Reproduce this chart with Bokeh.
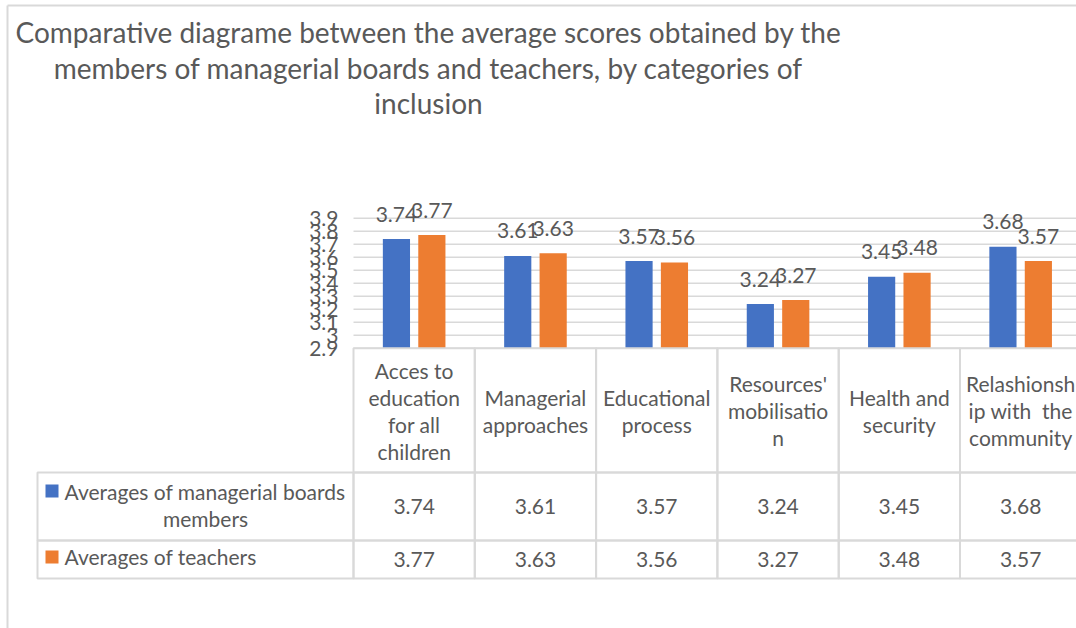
from bokeh.plotting import figure
from bokeh.models import ColumnDataSource, Range1d
from bokeh.transform import dodge
from bokeh.core.properties import value
from bokeh.embed import file_html
from bokeh.resources import INLINE

# ---------------- data ----------------
categories = ["Acces to education for all children", "Managerial approaches",
              "Educational process", "Resources' mobilisation",
              "Health and security", "Relashionship with  the community"]
header_labels = ["Acces to\neducation\nfor all\nchildren", "Managerial\napproaches",
                 "Educational\nprocess", "Resources'\nmobilisatio\nn",
                 "Health and\nsecurity", "Relashionsh\nip with\u00a0 the\ncommunity"]
managers = [3.74, 3.61, 3.57, 3.24, 3.45, 3.68]
teachers = [3.77, 3.63, 3.56, 3.27, 3.48, 3.57]
series_names = ["Averages of managerial boards members", "Averages of teachers"]
legend_lines = [["Averages of managerial boards", "members"], ["Averages of teachers"]]
y_ticks = [2.9, 3.0, 3.1, 3.2, 3.3, 3.4, 3.5, 3.6, 3.7, 3.8, 3.9]
y_tick_labels = ["2.9", "3", "3.1", "3.2", "3.3", "3.4", "3.5", "3.6", "3.7", "3.8", "3.9"]
title_lines = ["Comparative diagrame between the average scores obtained by the",
               "members of managerial boards and teachers, by categories of",
               "inclusion"]

# ---------------- style / layout ----------------
BLUE, ORANGE = "#4472C4", "#ED7D31"
TXT = "#595959"
LINE = "#d9d9d9"
FONT = value("Lato")
FS = "21px"

W, H = 1076, 628
FRAME_L = 353.0          # canvas x where the category axis starts
CAT_W = 121.3            # px per category
BASE_Y = 347.7           # canvas y of the axis minimum (2.9)
PX_PER_UNIT = 130.0      # px per 1.0 of score
Y_MIN = 2.9

x_range = Range1d(-FRAME_L / CAT_W, (W - FRAME_L) / CAT_W)
y_range = Range1d(Y_MIN - (H - BASE_Y) / PX_PER_UNIT, Y_MIN + BASE_Y / PX_PER_UNIT)

p = figure(width=W, height=H, x_range=x_range, y_range=y_range, title=None,
           x_axis_location=None, y_axis_location=None, min_border=0,
           output_backend="svg", toolbar_location=None, outline_line_color=None,
           background_fill_color="white", border_fill_color="white")
p.grid.visible = False
p.extra_x_ranges = {"px": Range1d(0, W)}
p.extra_y_ranges = {"px": Range1d(H, 0)}

n = len(categories)
src = ColumnDataSource(dict(
    xc=[i + 0.5 for i in range(n)],
    managers=managers, teachers=teachers,
    m_txt=[f"{v:.2f}" for v in managers],
    t_txt=[f"{v:.2f}" for v in teachers],
))

# ---------------- outer chart border ----------------
p.segment(x0=[7, 7], y0=[5, 5], x1=[7, W + 5], y1=[H + 5, 5], x_range_name="px",
          y_range_name="px", line_color=LINE, line_width=2)

# ---------------- title ----------------
p.text(x=[428] * 3, y=[31, 67, 102], text=title_lines, x_range_name="px", y_range_name="px",
       text_align="center", text_baseline="middle", text_font=FONT,
       text_font_size="28px", text_color=TXT)

# ---------------- value axis: gridlines + tick labels ----------------
p.segment(x0=[0] * len(y_ticks), x1=[n] * len(y_ticks), y0=y_ticks, y1=y_ticks,
          line_color=LINE, line_width=1.5)
p.text(x=[0] * len(y_ticks), y=y_ticks, text=y_tick_labels, x_offset=-15,
       text_align="right", text_baseline="middle", text_font=FONT,
       text_font_size=FS, text_color=TXT)

# ---------------- bars ----------------
off = 0.146
bw = 0.224
p.vbar(x=dodge("xc", -off), top="managers", bottom=Y_MIN, width=bw,
       source=src, fill_color=BLUE, line_color=None)
p.vbar(x=dodge("xc", off), top="teachers", bottom=Y_MIN, width=bw,
       source=src, fill_color=ORANGE, line_color=None)

p.text(x=dodge("xc", -off), y="managers", text="m_txt", source=src,
       text_align="center", text_baseline="middle", y_offset=-25,
       text_font=FONT, text_font_size=FS, text_color=TXT)
p.text(x=dodge("xc", off), y="teachers", text="t_txt", source=src,
       text_align="center", text_baseline="middle", y_offset=-25,
       text_font=FONT, text_font_size=FS, text_color=TXT)

# ---------------- data table ----------------
rows = [(347.7, 472), (472, 540), (540, 578)]
cl, cr, ct, cb = [], [], [], []
for i in range(n):
    for (t, b) in rows:
        cl.append(i); cr.append(i + 1); ct.append(t); cb.append(b)
p.quad(left=cl, right=cr, top=ct, bottom=cb, y_range_name="px",
       fill_color=None, line_color=LINE, line_width=2)
p.quad(left=[37, 37], right=[FRAME_L, FRAME_L], top=[r[0] for r in rows[1:]],
       bottom=[r[1] for r in rows[1:]], x_range_name="px", y_range_name="px",
       fill_color=None, line_color=LINE, line_width=2)

# header (category names), centred vertically in the header row
HEADER_CY, LINE_H = 410, 27
hx, hy, ht = [], [], []
for i, lab in enumerate(header_labels):
    lines = lab.split("\n")
    for k, ln in enumerate(lines):
        hx.append(i + 0.5)
        hy.append(HEADER_CY + (k - (len(lines) - 1) / 2) * LINE_H)
        ht.append(ln)
p.text(x=hx, y=hy, text=ht, y_range_name="px", text_align="center",
       text_baseline="middle", text_font=FONT, text_font_size=FS, text_color=TXT)

# value rows
p.text(x="xc", y=506, text="m_txt", source=src, y_range_name="px", text_align="center",
       text_baseline="middle", text_font=FONT, text_font_size=FS, text_color=TXT)
p.text(x="xc", y=559, text="t_txt", source=src, y_range_name="px", text_align="center",
       text_baseline="middle", text_font=FONT, text_font_size=FS, text_color=TXT)

# legend keys + series names
p.quad(left=[45, 45], right=[58, 58], top=[484, 550], bottom=[497, 563],
       x_range_name="px", y_range_name="px", fill_color=[BLUE, ORANGE], line_color=None)
p.text(x=[64, 64], y=[491, 556], text=[legend_lines[0][0], legend_lines[1][0]],
       x_range_name="px", y_range_name="px", text_align="left", text_baseline="middle",
       text_font=FONT, text_font_size=FS, text_color=TXT)
p.text(x=[205], y=[518], text=[legend_lines[0][1]], x_range_name="px", y_range_name="px",
       text_align="center", text_baseline="middle", text_font=FONT,
       text_font_size=FS, text_color=TXT)

open("out.html", "w").write(file_html(p, INLINE))
